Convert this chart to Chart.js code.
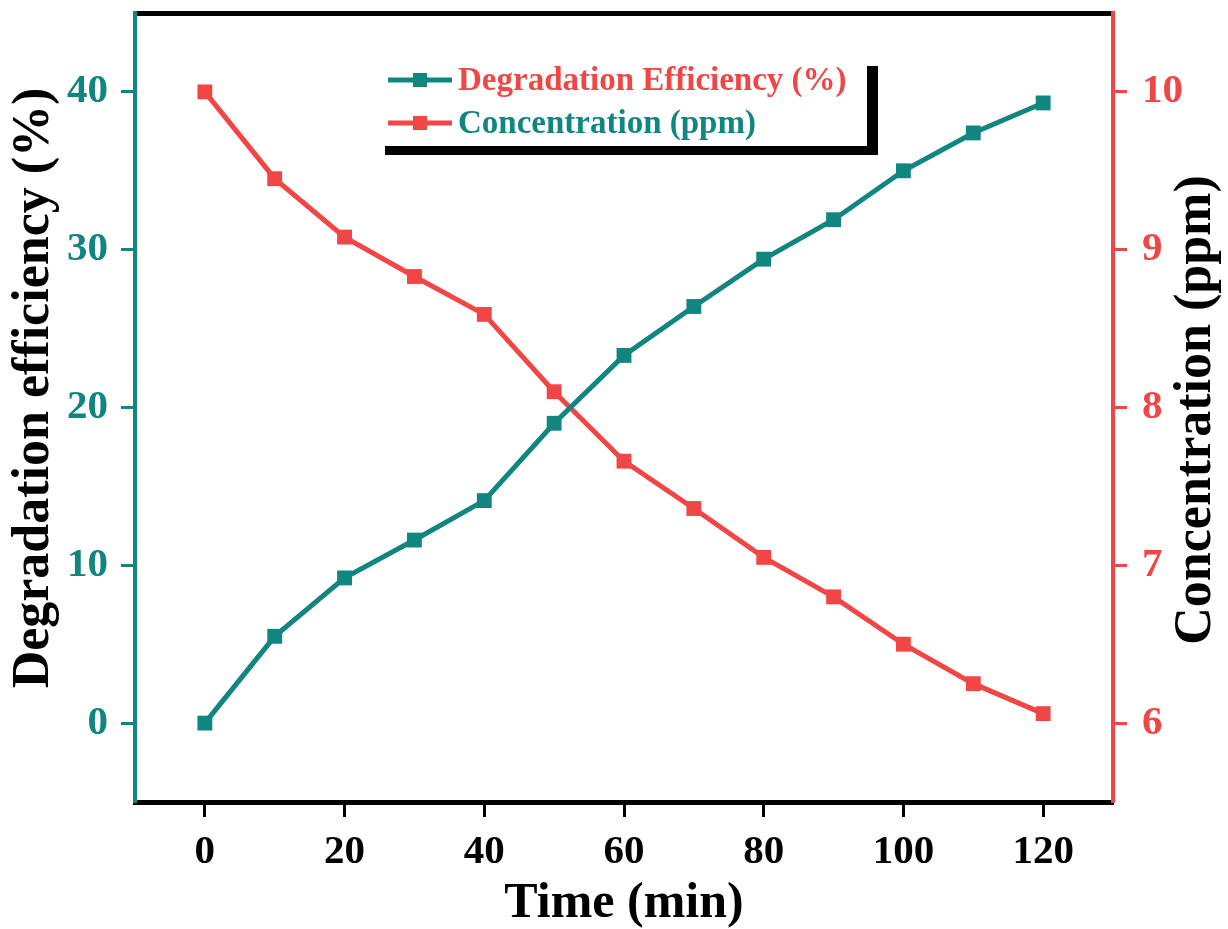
<!DOCTYPE html>
<html>
<head>
<meta charset="utf-8">
<script src="https://cdn.jsdelivr.net/npm/chart.js@4/dist/chart.umd.min.js"></script>
<style>
  html, body { margin: 0; padding: 0; background: #fff; }
  #wrap { width: 1228px; height: 929px; }
</style>
</head>
<body>
<div id="wrap"><canvas id="grafico" width="1228" height="929"></canvas></div>
<script>
// datos
const tiempo = [0, 10, 20, 30, 40, 50, 60, 70, 80, 90, 100, 110, 120];
const eficiencia = [0, 5.5, 9.2, 11.6, 14.1, 19.0, 23.3, 26.4, 29.4, 31.9, 35.0, 37.4, 39.3];
const concentracion = [10.0, 9.45, 9.08, 8.83, 8.59, 8.10, 7.66, 7.36, 7.05, 6.80, 6.50, 6.25, 6.06];
const ticksX = [0, 20, 40, 60, 80, 100, 120];
const ticksIzq = [0, 10, 20, 30, 40];
const ticksDer = [6, 7, 8, 9, 10];
const leyenda = ['Degradation Efficiency (%)', 'Concentration (ppm)'];

const verde = '#11857f';
const rojo = '#f04646';
const fuente = '"Liberation Serif", "Times New Roman", serif';

// quita el relleno que Chart.js agrega para las etiquetas
function sinRelleno(s) {
    s.paddingTop = 0;
    s.paddingBottom = 0;
    s.paddingLeft = 0;
    s.paddingRight = 0;
}

// titulos de los ejes Y y la leyenda con sombra
const extras = {
    id: 'extras',
    afterDraw(chart) {
        const ctx = chart.ctx;
        ctx.save();
        ctx.fillStyle = '#000';
        ctx.textAlign = 'center';
        ctx.textBaseline = 'middle';
        ctx.font = 'bold 52px ' + fuente;
        ctx.translate(35, 388);
        ctx.rotate(-Math.PI / 2);
        ctx.fillText('Degradation efficiency (%)', 0, 0);
        ctx.restore();

        ctx.save();
        ctx.fillStyle = '#000';
        ctx.textAlign = 'center';
        ctx.textBaseline = 'middle';
        ctx.font = 'bold 52px ' + fuente;
        ctx.translate(1197, 410);
        ctx.rotate(-Math.PI / 2);
        ctx.fillText('Concentration (ppm)', 0, 0);
        ctx.restore();

        // caja de la leyenda
        ctx.save();
        ctx.fillStyle = '#000';
        ctx.fillRect(385, 66, 493, 89);
        ctx.fillStyle = '#fff';
        ctx.fillRect(375, 56, 492, 90);

        const filas = [
            { y: 80, linea: verde, texto: rojo },
            { y: 123, linea: rojo, texto: verde }
        ];
        filas.forEach((f, i) => {
            ctx.strokeStyle = f.linea;
            ctx.lineWidth = 5;
            ctx.beginPath();
            ctx.moveTo(388, f.y);
            ctx.lineTo(452, f.y);
            ctx.stroke();
            ctx.fillStyle = f.linea;
            ctx.fillRect(413, f.y - 7, 14, 14);
            ctx.fillStyle = f.texto;
            ctx.font = 'bold 33px ' + fuente;
            ctx.textAlign = 'left';
            ctx.textBaseline = 'middle';
            ctx.fillText(leyenda[i], 458, f.y + 1);
        });
        ctx.restore();
    }
};

const ctx = document.getElementById('grafico').getContext('2d');
new Chart(ctx, {
    type: 'line',
    data: {
        datasets: [{
            label: leyenda[0],
            data: tiempo.map((t, i) => ({ x: t, y: eficiencia[i] })),
            yAxisID: 'y',
            borderColor: verde,
            backgroundColor: verde,
            borderWidth: 5,
            pointStyle: 'rect',
            pointRadius: 10.5,
            pointBorderWidth: 0,
            tension: 0
        }, {
            label: leyenda[1],
            data: tiempo.map((t, i) => ({ x: t, y: concentracion[i] })),
            yAxisID: 'y2',
            borderColor: rojo,
            backgroundColor: rojo,
            borderWidth: 5,
            pointStyle: 'rect',
            pointRadius: 10.5,
            pointBorderWidth: 0,
            tension: 0
        }]
    },
    options: {
        responsive: false,
        animation: false,
        layout: { padding: 0 },
        plugins: {
            legend: { display: false },
            tooltip: { enabled: false }
        },
        scales: {
            x: {
                type: 'linear',
                position: 'bottom',
                min: -10,
                max: 130,
                afterBuildTicks: (s) => { s.ticks = ticksX.map(v => ({ value: v })); },
                afterFit: (s) => { s.height = 127; sinRelleno(s); },
                grid: { display: true, drawOnChartArea: false, drawTicks: true, tickLength: 15, tickWidth: 3, tickColor: '#000' },
                border: { display: true, color: '#000', width: 5 },
                ticks: { color: '#000', padding: 11, maxRotation: 0, font: { family: fuente, size: 41, weight: 'bold' } },
                title: { display: true, text: 'Time (min)', color: '#000', padding: { top: 0, bottom: 0 }, font: { family: fuente, size: 50, weight: 'bold', lineHeight: 1 } }
            },
            xTop: {
                type: 'linear',
                position: 'top',
                min: -10,
                max: 130,
                afterFit: (s) => { s.height = 13; sinRelleno(s); },
                grid: { display: false },
                border: { display: true, color: '#000', width: 5 },
                ticks: { display: false }
            },
            y: {
                type: 'linear',
                position: 'left',
                min: -5,
                max: 45,
                afterBuildTicks: (s) => { s.ticks = ticksIzq.map(v => ({ value: v })); },
                afterFit: (s) => { s.width = 135; sinRelleno(s); },
                grid: { display: true, drawOnChartArea: false, drawTicks: true, tickLength: 14, tickWidth: 3, tickColor: verde },
                border: { display: true, color: verde, width: 4 },
                ticks: { color: verde, padding: 13, font: { family: fuente, size: 41, weight: 'bold' } }
            },
            y2: {
                type: 'linear',
                position: 'right',
                min: 5.5,
                max: 10.5,
                afterBuildTicks: (s) => { s.ticks = ticksDer.map(v => ({ value: v })); },
                afterFit: (s) => { s.width = 115; sinRelleno(s); },
                grid: { display: true, drawOnChartArea: false, drawTicks: true, tickLength: 14, tickWidth: 3, tickColor: rojo },
                border: { display: true, color: rojo, width: 4 },
                ticks: { color: rojo, padding: 15, font: { family: fuente, size: 41, weight: 'bold' } }
            }
        }
    },
    plugins: [extras]
});
</script>
</body>
</html>
